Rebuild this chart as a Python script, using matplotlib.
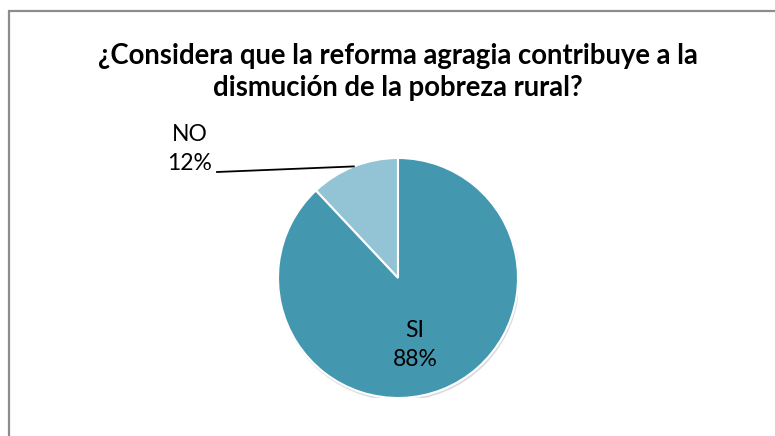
import numpy as np
import matplotlib
matplotlib.use("Agg")
import matplotlib.pyplot as plt
from matplotlib.patches import Circle

# data
labels = ["NO", "SI"]
values = [12, 88]
colors = ["#93C4D5", "#4398B0"]
title = "¿Considera que la reforma agragia contribuye a la\ndismución de la pobreza rural?"

plt.rcParams['font.family'] = ['Lato', 'DejaVu Sans']

W, H = 775, 436
fig = plt.figure(figsize=(W / 100, H / 100), dpi=100)
fig.patch.set_facecolor("white")

# chart border (left + top only visible)
border = fig.add_axes([0, 0, 1, 1], zorder=-5)
border.set_xlim(0, W)
border.set_ylim(H, 0)
border.axis("off")
border.plot([8.5, 8.5, W + 5], [H + 5, 11.5, 11.5], color="#8c8c8c", lw=1.6,
            solid_joinstyle="miter")

fig.text(398 / W, 1 - 72 / H, title, ha="center", va="center",
         fontsize=19.8, fontweight="bold", linespacing=1.3)

# pie axes: centre (398, 278), radius 120 px
cx, cy, r = 398, 278, 120
ax = fig.add_axes([(cx - r) / W, (H - cy - r) / H, 2 * r / W, 2 * r / H])
ax.axis("off")

shadow = Circle((0.008, -0.018), 1.0, color="#c8c8c8", alpha=0.5, zorder=0)
ax.add_patch(shadow)
wedges, _ = ax.pie(values, colors=colors, startangle=90, counterclock=True,
                   radius=1.0, wedgeprops=dict(edgecolor="white", linewidth=1.5))
for w in wedges:
    w.set_zorder(1)
ax.set_xlim(-1, 1)
ax.set_ylim(-1, 1)

total = sum(values)
# SI label inside
ax.text((415 - cx) / r, (cy - 345) / r, f"{labels[1]}\n{values[1] / total * 100:.0f}%",
        ha="center", va="center", fontsize=16.5, linespacing=1.42, zorder=3)

# NO label outside with leader line
ang = np.deg2rad(90 + values[0] / total * 360 / 2)
ex, ey = np.cos(ang), np.sin(ang)
lx, ly = (217 - cx) / r, (cy - 172) / r
ax.plot([lx, ex], [ly, ey], color="black", lw=1.3, clip_on=False, zorder=3)
ax.text((190 - cx) / r, (cy - 149) / r, f"{labels[0]}\n{values[0] / total * 100:.0f}%",
        ha="center", va="center", fontsize=16.5, linespacing=1.5, clip_on=False)

fig.savefig("out.png", dpi=100)
